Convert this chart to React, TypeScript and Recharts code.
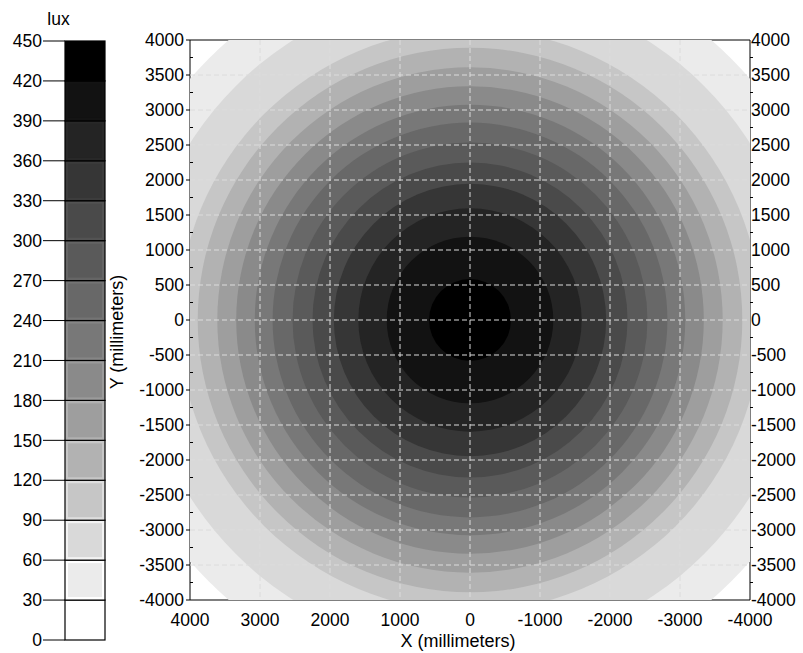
import React from 'react'
import {
  ScatterChart,
  Scatter,
  XAxis,
  YAxis,
  CartesianGrid,
  Label,
  BarChart,
  Bar,
} from 'recharts'

// colour scale (lux)
const luxTicks = [0, 30, 60, 90, 120, 150, 180, 210, 240, 270, 300, 330, 360, 390, 420, 450]
const bandColors = [
  '#ffffff', '#ebebeb', '#d9d9d9', '#c6c6c6', '#b2b2b2',
  '#9e9e9e', '#8a8a8a', '#787878', '#686868', '#5a5a5a',
  '#4a4a4a', '#363636', '#242424', '#121212', '#000000',
]

// iso-lux contours: level and the radius (mm) where it crosses the axes
const contourLevels = [30, 60, 90, 120, 150, 180, 210, 240, 270, 300, 330, 360, 390, 420]
const contourRadii = [5280, 4730, 4160, 3890, 3610, 3340, 3075, 2820, 2535, 2250, 1945, 1595, 1190, 585]

// axes
const xTicks = [4000, 3000, 2000, 1000, 0, -1000, -2000, -3000, -4000]
const xTopTicks = Array.from({ length: 25 }, (_, i) => 4000 - (i * 1000) / 3)
const yTicks = Array.from({ length: 33 }, (_, i) => 4000 - i * 250)
const xGrid = [3000, 2000, 1000, 0, -1000, -2000, -3000]
const yGrid = [3500, 3000, 2500, 2000, 1500, 1000, 500, 0, -500, -1000, -1500, -2000, -2500, -3000, -3500]

const FONT = '"Liberation Sans", Arial, sans-serif'
const FS = 17.5

const colorbarRow: Record<string, any> = { name: 'lux' }
bandColors.forEach((_, i) => {
  colorbarRow[`b${i}`] = luxTicks[i + 1] - luxTicks[i]
})

const rings = contourRadii.map((r, i) => ({
  level: contourLevels[i],
  color: bandColors[i + 1],
  points: [
    { x: r, y: 0 },
    { x: 0, y: r },
    { x: -r, y: 0 },
    { x: 0, y: -r },
  ],
}))

const lighten = (hex: string) => {
  const c = parseInt(hex.slice(1, 3), 16)
  const v = Math.min(255, Math.round(c * 1.12))
  const h = v.toString(16).padStart(2, '0')
  return `#${h}${h}${h}`
}

const BevelCell = (props: any) => {
  const { x, y, width, height, fill } = props
  return (
    <g>
      <rect x={x} y={y} width={width} height={height} fill={lighten(fill)} stroke="#000" strokeWidth={1.2} />
      <rect x={x + 3} y={y + 3} width={width - 6} height={height - 6} fill={fill} />
    </g>
  )
}

const emptyShape = () => <g />

const ringLine = (fill: string) => (props: any) => {
  const pts: { x: number; y: number }[] = props.points || []
  if (!pts.length) return <g />
  const xs = pts.map((p) => p.x)
  const ys = pts.map((p) => p.y)
  const x0 = Math.min(...xs)
  const x1 = Math.max(...xs)
  const y0 = Math.min(...ys)
  const y1 = Math.max(...ys)
  return (
    <ellipse
      cx={(x0 + x1) / 2}
      cy={(y0 + y1) / 2}
      rx={(x1 - x0) / 2}
      ry={(y1 - y0) / 2}
      fill={fill}
      stroke="none"
    />
  )
}

const isMult = (v: number, m: number) => Math.abs(v - Math.round(v / m) * m) < 1e-6

const TopTick = (props: any) => {
  const { x, y, payload } = props
  const axisY = y + 10
  const v = payload.value
  return (
    <g>
      <line x1={x} x2={x} y1={axisY} y2={axisY + 3} stroke="#000" />
      {isMult(v, 1000) && (
        <text x={x} y={axisY - 15} textAnchor="middle" fontFamily={FONT} fontSize={FS} fill="#000">
          {Math.round(v)}
        </text>
      )}
    </g>
  )
}

const BottomTick = (props: any) => {
  const { x, y, payload } = props
  const axisY = y - 10
  return (
    <text x={x} y={axisY + 26} textAnchor="middle" fontFamily={FONT} fontSize={FS} fill="#000">
      {payload.value}
    </text>
  )
}

const LeftTick = (props: any) => {
  const { x, y, payload } = props
  const axisX = x + 5
  const v = payload.value
  const major = isMult(v, 500)
  return (
    <g>
      {major ? (
        <line x1={axisX - 4} x2={axisX} y1={y} y2={y} stroke="#000" />
      ) : (
        <line x1={axisX} x2={axisX + 3} y1={y} y2={y} stroke="#000" />
      )}
      {major && (
        <text x={axisX - 6} y={y + 6} textAnchor="end" fontFamily={FONT} fontSize={FS} fill="#000">
          {v}
        </text>
      )}
    </g>
  )
}

const RightTick = (props: any) => {
  const { x, y, payload } = props
  const axisX = x - 4
  const v = payload.value
  const major = isMult(v, 500)
  return (
    <g>
      {!major && <line x1={axisX} x2={axisX + 3} y1={y} y2={y} stroke="#000" />}
      {major && (
        <text x={axisX + 1} y={y + 6} textAnchor="start" fontFamily={FONT} fontSize={FS} fill="#000">
          {v}
        </text>
      )}
    </g>
  )
}

export default function App() {
  return (
    <div style={{ position: 'absolute', left: 0, top: 0, width: 803, height: 653, background: '#fff' }}>
      {/* colour bar */}
      <div style={{ position: 'absolute', left: 0, top: 0 }}>
        <BarChart
          width={110}
          height={653}
          data={[colorbarRow]}
          margin={{ top: 41, right: 5, bottom: 13, left: 0 }}
          barCategoryGap={0}
        >
          <XAxis dataKey="name" hide />
          <YAxis
            type="number"
            domain={[0, 450]}
            ticks={luxTicks}
            interval={0}
            width={65}
            axisLine={false}
            tickSize={22}
            tickMargin={1}
            tickLine={{ stroke: '#000' }}
            tick={{ fill: '#000', fontSize: FS, fontFamily: FONT }}
          />
          {bandColors.map((c, i) => (
            <Bar
              key={`b${i}`}
              dataKey={`b${i}`}
              stackId="cb"
              fill={c}
              shape={BevelCell}
              isAnimationActive={false}
            />
          ))}
        </BarChart>
      </div>
      <svg width={110} height={40} style={{ position: 'absolute', left: 0, top: 0 }}>
        <text x={58.5} y={25} textAnchor="middle" fontFamily={FONT} fontSize={FS} fill="#000">
          lux
        </text>
      </svg>

      {/* illuminance map */}
      <div style={{ position: 'absolute', left: 0, top: 0 }}>
        <ScatterChart width={803} height={653} margin={{ top: 0, right: 0, bottom: 0, left: 0 }}>
          <XAxis
            xAxisId="bottom"
            type="number"
            dataKey="x"
            orientation="bottom"
            domain={[-4000, 4000]}
            allowDataOverflow
            reversed
            ticks={xTicks}
            interval={0}
            height={53}
            tickSize={4}
            tickMargin={6}
            tickLine={false}
            axisLine={{ stroke: '#000' }}
            tick={BottomTick}
          >
            <Label
              value="X (millimeters)"
              position="center"
              dx={-12}
              dy={14}
              style={{ fontFamily: FONT, fontSize: 18, fill: '#000' }}
            />
          </XAxis>
          <XAxis
            xAxisId="top"
            type="number"
            orientation="top"
            domain={[-4000, 4000]}
            allowDataOverflow
            reversed
            ticks={xTopTicks}
            interval={0}
            height={40}
            tickSize={4}
            tickMargin={6}
            tickLine={false}
            axisLine={{ stroke: '#000' }}
            tick={TopTick}
          />
          <YAxis
            yAxisId="left"
            type="number"
            dataKey="y"
            orientation="left"
            domain={[-4000, 4000]}
            allowDataOverflow
            ticks={yTicks}
            interval={0}
            width={190}
            tickSize={4}
            tickMargin={1}
            tickLine={false}
            axisLine={{ stroke: '#000' }}
            tick={LeftTick}
          >
            <Label
              value="Y (millimeters)"
              position="center"
              angle={-90}
              dx={22}
              dy={12}
              style={{ fontFamily: FONT, fontSize: 18, fill: '#000' }}
            />
          </YAxis>
          <YAxis
            yAxisId="right"
            type="number"
            orientation="right"
            domain={[-4000, 4000]}
            allowDataOverflow
            ticks={yTicks}
            interval={0}
            width={53}
            tickSize={2}
            tickMargin={2}
            tickLine={false}
            axisLine={{ stroke: '#000' }}
            tick={RightTick}
          />
          {rings.map((ring) => (
            <Scatter
              key={ring.level}
              name={`${ring.level} lux`}
              data={ring.points}
              xAxisId="bottom"
              yAxisId="left"
              line={ringLine(ring.color)}
              shape={emptyShape}
              isAnimationActive={false}
            />
          ))}
          <CartesianGrid
            xAxisId="bottom"
            yAxisId="left"
            horizontalValues={yGrid}
            verticalValues={xGrid}
            stroke="#dcdcdc"
            strokeDasharray="5 3"
            zIndex={1000}
          />
        </ScatterChart>
      </div>
    </div>
  )
}
